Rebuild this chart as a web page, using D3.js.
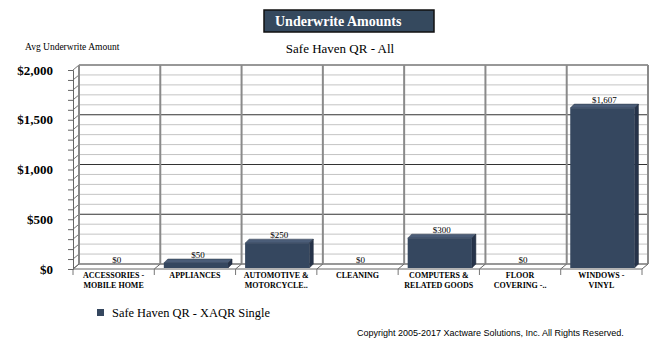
<!DOCTYPE html>
<html>
<head>
<meta charset="utf-8">
<script src="https://cdn.jsdelivr.net/npm/d3@7"></script>
<style>
  body { margin: 0; background: #fff; }
  svg { display: block; }
  .serif { font-family: "Liberation Serif", "Times New Roman", Times, "DejaVu Serif", serif; }
</style>
</head>
<body>
<svg id="chart" width="672" height="347"></svg>
<script>
// data
const categories = [
  "ACCESSORIES -\nMOBILE HOME",
  "APPLIANCES",
  "AUTOMOTIVE &\nMOTORCYCLE..",
  "CLEANING",
  "COMPUTERS &\nRELATED GOODS",
  "FLOOR\nCOVERING -..",
  "WINDOWS -\nVINYL"
]
const values = [0, 50, 250, 0, 300, 0, 1607]
const yTicks = [0, 500, 1000, 1500, 2000]
const seriesName = "Safe Haven QR - XAQR Single"

const svg = d3.select("#chart")

// 3d depth of the floor / walls
let dx = 6, dy = 5
let bdx = 4, bdy = 4  // bar depth

let x = d3.scaleBand()
    .domain(categories)
    .range([73, 642])

let y = d3.scaleLinear()
    .domain([0, 2000])
    .range([269, 70])

let barColor = "#35475f"
let fmt = d3.format("$,")

// helper for serif text
function serifText(sel, size, weight) {
  return sel.attr("class", "serif")
      .attr("font-size", size)
      .attr("font-weight", weight || "normal")
}

// title box
svg.append("rect")
    .attr("x", 264).attr("y", 10)
    .attr("width", 170).attr("height", 22)
    .attr("fill", "#35495e")
    .attr("stroke", "#111").attr("stroke-width", 1.5)
svg.append("text")
    .call(serifText, 14, "bold")
    .attr("x", 275).attr("y", 26)
    .attr("fill", "#fff")
    .text("Underwrite Amounts")

svg.append("text")
    .call(serifText, 13)
    .attr("x", 340).attr("y", 53)
    .attr("text-anchor", "middle")
    .text("Safe Haven QR - All")

svg.append("text")
    .call(serifText, 9.5)
    .attr("x", 25).attr("y", 50)
    .text("Avg Underwrite Amount")

// back wall
let [r0, r1] = x.range()
svg.append("rect")
    .attr("x", r0 + dx).attr("y", y(2000) - dy)
    .attr("width", r1 - r0).attr("height", y(0) - y(2000))
    .attr("fill", "#fff")

let gridVals = d3.range(0, 2001, 100)
let grid = svg.append("g")
grid.selectAll("line.grid")
  .data(gridVals)
  .join("line")
    .attr("x1", r0 + dx).attr("x2", r1 + dx)
    .attr("y1", d => y(d) - dy).attr("y2", d => y(d) - dy)
    .attr("stroke", d => d % 500 === 0 ? "#333" : "#c4c4c4")
    .attr("stroke-width", d => d % 500 === 0 ? 1.2 : 1)

// left wall diagonals
grid.selectAll("line.side")
  .data(gridVals)
  .join("line")
    .attr("class", "side")
    .attr("x1", r0).attr("x2", r0 + dx)
    .attr("y1", d => y(d)).attr("y2", d => y(d) - dy)
    .attr("stroke", "#777")

// vertical category lines on back wall
let bounds = categories.map(c => x(c)).concat([r1])
grid.selectAll("line.vert")
  .data(bounds)
  .join("line")
    .attr("class", "vert")
    .attr("x1", d => d + dx).attr("x2", d => d + dx)
    .attr("y1", y(2000) - dy).attr("y2", y(0) - dy)
    .attr("stroke", "#8a8a8a").attr("stroke-width", 2)

// floor
grid.append("line")
    .attr("x1", r0).attr("x2", r1)
    .attr("y1", y(0)).attr("y2", y(0))
    .attr("stroke", "#666")
grid.selectAll("line.floor")
  .data(bounds)
  .join("line")
    .attr("class", "floor")
    .attr("x1", d => d).attr("x2", d => d + dx)
    .attr("y1", y(0)).attr("y2", y(0) - dy)
    .attr("stroke", "#666")
grid.selectAll("line.ctick")
  .data(bounds)
  .join("line")
    .attr("class", "ctick")
    .attr("x1", d => d).attr("x2", d => d)
    .attr("y1", y(0)).attr("y2", y(0) + 6)
    .attr("stroke", "#777")

// y axis
let yAxis = d3.axisLeft(y)
    .tickValues(gridVals)
    .tickSize(5)
    .tickPadding(15)
    .tickFormat(d => yTicks.includes(d) ? fmt(d) : "")
svg.append("g")
    .attr("transform", `translate(${r0},0)`)
    .call(yAxis)
    .attr("font-family", null)
    .attr("font-size", null)
    .call(g => g.select(".domain").attr("stroke", "#666"))
    .call(g => g.selectAll(".tick line").attr("stroke", "#666"))
    .call(g => g.selectAll(".tick text")
        .call(serifText, 13, "bold")
        .attr("fill", "#000"))

// bars
let bw = x.bandwidth() * 0.79
let bars = svg.append("g")
  .selectAll("g")
  .data(categories.map((c, i) => ({c, v: values[i]})).filter(d => d.v > 0))
  .join("g")

bars.each(function(d) {
  let g = d3.select(this)
  let x0 = x(d.c) + x.bandwidth() / 2 - bw / 2 + 1
  let yt = y(d.v) - 1
  let yb = y(0) - 1
  g.append("polygon")
      .attr("points", [[x0, yt], [x0 + bdx, yt - bdy], [x0 + bw + bdx, yt - bdy], [x0 + bw, yt]].join(" "))
      .attr("fill", "#4b5d78").attr("stroke", "#2a3647").attr("stroke-width", 0.5)
  g.append("polygon")
      .attr("points", [[x0 + bw, yt], [x0 + bw + bdx, yt - bdy], [x0 + bw + bdx, yb - bdy], [x0 + bw, yb]].join(" "))
      .attr("fill", "#26334a").attr("stroke", "#222d3d").attr("stroke-width", 0.5)
  g.append("rect")
      .attr("x", x0).attr("y", yt)
      .attr("width", bw).attr("height", yb - yt)
      .attr("fill", barColor)
})

// value labels
svg.append("g")
  .selectAll("text")
  .data(categories.map((c, i) => ({c, v: values[i]})))
  .join("text")
    .call(serifText, 9)
    .attr("x", d => x(d.c) + x.bandwidth() / 2 + 3)
    .attr("y", d => y(d.v) - 6)
    .attr("text-anchor", "middle")
    .text(d => fmt(d.v))

// category labels
svg.append("g")
  .selectAll("text")
  .data(categories)
  .join("text")
    .call(serifText, 8, "bold")
    .attr("text-anchor", "middle")
    .each(function(c) {
      d3.select(this).selectAll("tspan")
        .data(c.split("\n"))
        .join("tspan")
          .attr("x", x(c) + x.bandwidth() / 2)
          .attr("y", (d, i) => 278 + i * 10)
          .text(d => d)
    })

// legend
svg.append("rect")
    .attr("x", 97).attr("y", 309)
    .attr("width", 7).attr("height", 7)
    .attr("fill", barColor)
svg.append("text")
    .call(serifText, 12.4)
    .attr("x", 112).attr("y", 317)
    .text(seriesName)

svg.append("text")
    .attr("x", 357).attr("y", 336)
    .attr("font-family", "'Liberation Sans', Arial, sans-serif")
    .attr("font-size", 9)
    .text("Copyright 2005-2017 Xactware Solutions, Inc. All Rights Reserved.")
</script>
</body>
</html>
